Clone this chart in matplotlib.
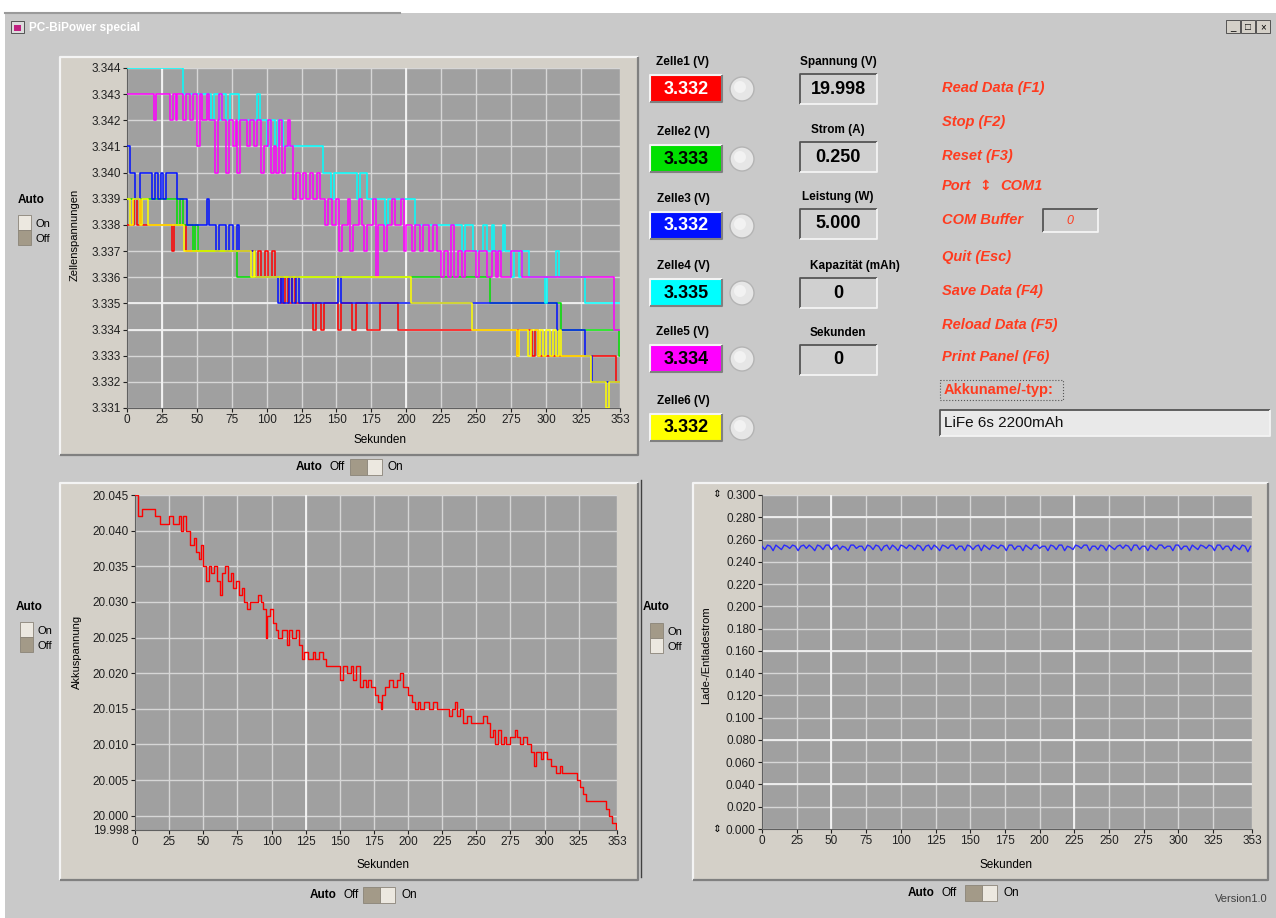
import matplotlib
matplotlib.use('Agg')
import matplotlib.pyplot as plt
from matplotlib.patches import Rectangle, Circle
import numpy as np

plt.rcParams['font.family'] = ['Liberation Sans', 'DejaVu Sans']

W, H = 1276, 918

# x axis of all three graphs
sek_ticks = [0, 25, 50, 75, 100, 125, 150, 175, 200, 225, 250, 275, 300, 325, 353]

# cell voltages: (second, volt) change points, drawn as steps
zelle1 = [(0, 3.338), (5, 3.339), (7, 3.338), (9, 3.339), (10, 3.338), (32, 3.337), (34, 3.338),
          (42, 3.337), (92, 3.336), (94, 3.337), (96, 3.336), (99, 3.337), (101, 3.336), (104, 3.337),
          (106, 3.336), (110, 3.335), (113, 3.336), (115, 3.335), (118, 3.336), (120, 3.335),
          (133, 3.334), (135, 3.335), (139, 3.334), (141, 3.335), (151, 3.334), (153, 3.335),
          (161, 3.334), (164, 3.335), (172, 3.334), (181, 3.335), (194, 3.334), (279, 3.333),
          (280, 3.334), (290, 3.333), (292, 3.334), (294, 3.333), (350, 3.332), (353, 3.332)]
zelle2 = [(0, 3.339), (36, 3.338), (38, 3.339), (40, 3.338), (47, 3.337), (49, 3.338), (51, 3.337),
          (79, 3.336), (260, 3.335), (311, 3.334), (352, 3.333), (353, 3.333)]
zelle3 = [(0, 3.341), (2, 3.340), (6, 3.339), (9, 3.340), (18, 3.339), (20, 3.340), (22, 3.339),
          (24, 3.340), (26, 3.339), (28, 3.340), (36, 3.339), (43, 3.338), (57, 3.339), (59, 3.338),
          (64, 3.337), (66, 3.338), (71, 3.337), (73, 3.338), (76, 3.337), (79, 3.338), (80, 3.337),
          (92, 3.336), (108, 3.335), (110, 3.336), (112, 3.335), (116, 3.336), (118, 3.335),
          (121, 3.336), (123, 3.335), (151, 3.336), (153, 3.335), (308, 3.334), (328, 3.333),
          (333, 3.332), (353, 3.332)]
zelle4 = [(0, 3.344), (40, 3.343), (60, 3.342), (62, 3.343), (66, 3.342), (68, 3.343), (71, 3.342),
          (74, 3.343), (80, 3.342), (93, 3.343), (95, 3.342), (100, 3.341), (103, 3.342), (106, 3.341),
          (108, 3.342), (112, 3.341), (140, 3.340), (146, 3.339), (148, 3.340), (165, 3.339),
          (167, 3.340), (172, 3.339), (185, 3.338), (187, 3.339), (206, 3.338), (240, 3.337),
          (242, 3.338), (248, 3.337), (255, 3.338), (258, 3.337), (261, 3.338), (263, 3.337),
          (269, 3.338), (271, 3.337), (275, 3.336), (277, 3.337), (281, 3.336), (283, 3.337),
          (288, 3.336), (299, 3.335), (301, 3.336), (307, 3.337), (309, 3.336), (328, 3.335),
          (353, 3.335)]
zelle5 = [(0, 3.343), (19, 3.342), (21, 3.343), (31, 3.342), (33, 3.343), (35, 3.342), (36, 3.343),
          (40, 3.342), (42, 3.343), (45, 3.342), (47, 3.343), (50, 3.341), (52, 3.343), (54, 3.342),
          (57, 3.343), (59, 3.342), (63, 3.340), (65, 3.342), (66, 3.343), (68, 3.342), (71, 3.340),
          (73, 3.342), (76, 3.341), (78, 3.342), (79, 3.340), (81, 3.342), (86, 3.341), (88, 3.342),
          (91, 3.341), (93, 3.342), (96, 3.340), (98, 3.341), (101, 3.342), (103, 3.340),
          (105, 3.341), (107, 3.340), (109, 3.342), (111, 3.340), (113, 3.341), (115, 3.342),
          (117, 3.341), (119, 3.339), (121, 3.340), (124, 3.339), (126, 3.340), (128, 3.339),
          (131, 3.340), (133, 3.339), (136, 3.340), (138, 3.339), (142, 3.338), (144, 3.339),
          (147, 3.338), (150, 3.339), (152, 3.337), (154, 3.338), (158, 3.339), (160, 3.337),
          (162, 3.338), (166, 3.339), (168, 3.338), (170, 3.337), (172, 3.338), (176, 3.339),
          (178, 3.336), (180, 3.338), (184, 3.337), (186, 3.338), (190, 3.339), (192, 3.338),
          (196, 3.339), (198, 3.337), (200, 3.338), (204, 3.337), (206, 3.338), (210, 3.337),
          (212, 3.338), (216, 3.337), (219, 3.338), (222, 3.337), (225, 3.336), (227, 3.337),
          (230, 3.336), (232, 3.338), (234, 3.336), (237, 3.337), (240, 3.336), (242, 3.337),
          (250, 3.336), (252, 3.337), (258, 3.336), (261, 3.337), (264, 3.336), (266, 3.337),
          (268, 3.336), (275, 3.337), (283, 3.336), (349, 3.334), (353, 3.334)]
zelle6 = [(0, 3.339), (2, 3.338), (4, 3.339), (9, 3.338), (11, 3.339), (15, 3.338), (41, 3.337),
          (89, 3.336), (91, 3.337), (92, 3.336), (203, 3.335), (247, 3.334), (279, 3.333),
          (281, 3.334), (287, 3.333), (289, 3.334), (294, 3.333), (296, 3.334), (298, 3.333),
          (300, 3.334), (303, 3.333), (305, 3.334), (307, 3.333), (309, 3.334), (311, 3.333),
          (332, 3.332), (343, 3.331), (345, 3.332), (353, 3.332)]
zellen = [zelle1, zelle2, zelle3, zelle4, zelle5, zelle6]
zellen_farben = ['#ff0000', '#00e000', '#0010ff', '#00ffff', '#ff00ff', '#ffff00']

# battery voltage (second, volt)
akku = [(0, 20.045), (2, 20.042), (5, 20.043), (15, 20.042), (18, 20.041), (25, 20.042), (28, 20.041),
        (32, 20.042), (34, 20.040), (35, 20.042), (37, 20.040), (40, 20.038), (43, 20.039),
        (45, 20.037), (47, 20.036), (48, 20.038), (50, 20.035), (52, 20.033), (54, 20.035),
        (56, 20.034), (58, 20.035), (60, 20.033), (62, 20.031), (64, 20.034), (66, 20.035),
        (68, 20.033), (70, 20.034), (72, 20.032), (74, 20.033), (76, 20.031), (78, 20.032),
        (80, 20.030), (82, 20.029), (84, 20.030), (90, 20.031), (92, 20.030), (94, 20.029),
        (96, 20.025), (97, 20.028), (99, 20.029), (101, 20.027), (103, 20.026), (105, 20.025),
        (108, 20.026), (111, 20.024), (113, 20.026), (115, 20.025), (118, 20.026), (120, 20.024),
        (122, 20.022), (124, 20.023), (127, 20.022), (130, 20.023), (132, 20.022), (135, 20.023),
        (138, 20.022), (140, 20.021), (150, 20.019), (152, 20.021), (155, 20.020), (158, 20.021),
        (160, 20.019), (162, 20.021), (165, 20.018), (167, 20.019), (169, 20.018), (171, 20.019),
        (173, 20.018), (176, 20.017), (178, 20.016), (180, 20.015), (181, 20.017), (183, 20.018),
        (186, 20.019), (189, 20.018), (192, 20.019), (194, 20.020), (196, 20.018), (200, 20.017),
        (203, 20.016), (205, 20.015), (207, 20.016), (209, 20.015), (212, 20.016), (215, 20.015),
        (218, 20.016), (221, 20.015), (230, 20.014), (232, 20.015), (234, 20.016), (236, 20.014),
        (238, 20.015), (240, 20.013), (243, 20.014), (246, 20.013), (255, 20.014), (258, 20.013),
        (260, 20.011), (262, 20.012), (264, 20.010), (266, 20.012), (268, 20.010), (270, 20.011),
        (272, 20.010), (275, 20.011), (278, 20.012), (280, 20.011), (282, 20.010), (284, 20.011),
        (287, 20.010), (290, 20.009), (292, 20.007), (294, 20.009), (297, 20.008), (299, 20.009),
        (302, 20.008), (305, 20.007), (308, 20.006), (311, 20.007), (313, 20.006), (324, 20.005),
        (326, 20.004), (328, 20.003), (330, 20.002), (345, 20.001), (347, 20.000), (349, 19.999),
        (352, 19.998), (353, 19.998)]

# charge / discharge current, one value every 2 seconds
strom = [
    0.254, 0.251, 0.255, 0.254, 0.250, 0.255, 0.253, 0.251, 0.255, 0.254, 0.252, 0.255,
    0.254, 0.250, 0.254, 0.255, 0.252, 0.255, 0.253, 0.250, 0.255, 0.254, 0.251, 0.255,
    0.255, 0.251, 0.254, 0.255, 0.251, 0.254, 0.253, 0.250, 0.255, 0.255, 0.252, 0.254,
    0.254, 0.250, 0.255, 0.254, 0.251, 0.255, 0.254, 0.250, 0.254, 0.255, 0.251, 0.255,
    0.253, 0.250, 0.255, 0.254, 0.252, 0.255, 0.254, 0.251, 0.255, 0.254, 0.250, 0.254,
    0.255, 0.251, 0.255, 0.253, 0.250, 0.255, 0.254, 0.252, 0.255, 0.255, 0.251, 0.254,
    0.254, 0.250, 0.255, 0.254, 0.251, 0.254, 0.255, 0.250, 0.255, 0.253, 0.251, 0.255,
    0.254, 0.252, 0.255, 0.254, 0.250, 0.255, 0.255, 0.251, 0.254, 0.254, 0.250, 0.255,
    0.253, 0.251, 0.255, 0.255, 0.252, 0.254, 0.254, 0.250, 0.255, 0.254, 0.251, 0.255,
    0.255, 0.250, 0.254, 0.253, 0.251, 0.255, 0.254, 0.252, 0.255, 0.255, 0.250, 0.254,
    0.254, 0.251, 0.255, 0.254, 0.250, 0.255, 0.253, 0.251, 0.254, 0.255, 0.252, 0.255,
    0.254, 0.250, 0.255, 0.255, 0.251, 0.254, 0.254, 0.250, 0.255, 0.253, 0.251, 0.255,
    0.255, 0.252, 0.254, 0.254, 0.250, 0.255, 0.255, 0.251, 0.254, 0.254, 0.250, 0.255,
    0.253, 0.251, 0.255, 0.254, 0.252, 0.255, 0.254, 0.250, 0.255, 0.255, 0.251, 0.254,
    0.254, 0.250, 0.255, 0.253, 0.251, 0.255, 0.254, 0.249, 0.254,
]
strom_sek = list(range(0, 353, 2))

zellen_namen = ['Zelle1 (V)', 'Zelle2 (V)', 'Zelle3 (V)', 'Zelle4 (V)', 'Zelle5 (V)', 'Zelle6 (V)']
zellen_werte = ['3.332', '3.333', '3.332', '3.335', '3.334', '3.332']
zellen_text = ['white', 'black', 'white', 'black', 'black', 'black']
info_namen = ['Spannung (V)', 'Strom (A)', 'Leistung (W)', 'Kapazität (mAh)', 'Sekunden']
info_werte = ['19.998', '0.250', '5.000', '0', '0']
menu = ['Read Data (F1)', 'Stop (F2)', 'Reset (F3)', 'Port', 'COM Buffer', 'Quit (Esc)',
        'Save Data (F4)', 'Reload Data (F5)', 'Print Panel (F6)']

ROT = '#ff3b1f'
FRAME = '#d4d0c8'
PLOT_BG = '#a0a0a0'


def frac(x0, y0, x1, y1):
    return [x0 / W, 1 - y1 / H, (x1 - x0) / W, (y1 - y0) / H]


def box(bg, x0, y0, x1, y1, face, sunken=True, lw=1.3):
    bg.add_patch(Rectangle((x0, y0), x1 - x0, y1 - y0, facecolor=face, edgecolor='none'))
    dark, light = ('#555555', '#f4f4f4') if sunken else ('#f4f4f4', '#808080')
    bg.plot([x0, x0, x1], [y1, y0, y0], color=dark, lw=lw, solid_capstyle='butt')
    bg.plot([x0, x1, x1], [y1, y1, y0], color=light, lw=lw, solid_capstyle='butt')


def vtoggle(bg, x, y, on_dark):
    top, bottom = ('#a39a88', '#ece8e0') if on_dark else ('#ece8e0', '#a39a88')
    bg.add_patch(Rectangle((x, y), 13, 15, facecolor=top, edgecolor='#8a8478', lw=0.6))
    bg.add_patch(Rectangle((x, y + 15), 13, 15, facecolor=bottom, edgecolor='#8a8478', lw=0.6))


def htoggle(bg, x, y, label_x):
    bg.text(label_x, y + 8, 'Auto', fontsize=8.5, fontweight='bold', va='center')
    bg.text(label_x + 34, y + 8, 'Off', fontsize=8.5, va='center')
    bg.add_patch(Rectangle((x, y), 17, 16, facecolor='#a39a88', edgecolor='#8a8478', lw=0.6))
    bg.add_patch(Rectangle((x + 17, y), 15, 16, facecolor='#ece8e0', edgecolor='#8a8478', lw=0.6))
    bg.text(x + 38, y + 8, 'On', fontsize=8.5, va='center')


def chart(fig, px, yticks, ylim, fmt, bright_x=(), bright_y=()):
    ax = fig.add_axes(frac(*px))
    ax.set_facecolor(PLOT_BG)
    ax.set_xlim(0, 353)
    ax.set_ylim(*ylim)
    ax.set_xticks(sek_ticks)
    ax.set_xticklabels([str(s) for s in sek_ticks])
    ax.set_yticks(yticks)
    ax.set_yticklabels([fmt % v for v in yticks])
    ax.grid(True, color='#d6d6d6', lw=1.0)
    ax.set_axisbelow(True)
    for bx in bright_x:
        ax.axvline(bx, color='#f6f6f6', lw=1.3, zorder=1)
    for by in bright_y:
        ax.axhline(by, color='#f0f0f0', lw=1.3, zorder=1)
    ax.tick_params(length=3, width=0.8, labelsize=8.5, pad=1.5, colors='#202020')
    for s in ['top', 'right']:
        ax.spines[s].set_visible(False)
    for s in ['left', 'bottom']:
        ax.spines[s].set_color('#606060')
    return ax


def main():
    fig = plt.figure(figsize=(W / 100, H / 100), dpi=100)
    bg = fig.add_axes([0, 0, 1, 1])
    bg.set_xlim(0, W)
    bg.set_ylim(H, 0)
    bg.axis('off')

    # window
    bg.add_patch(Rectangle((0, 0), W, H, facecolor='white', edgecolor='none'))
    bg.add_patch(Rectangle((5, 13), W - 5, H - 13, facecolor='#c9c9c9', edgecolor='none'))
    bg.plot([5, 400], [13, 13], color='#9a9a9a', lw=1.5)
    grad = np.linspace(0, 1, 300)
    left = np.array([10, 32, 100]) / 255
    right = np.array([110, 140, 200]) / 255
    img = (left[None, :] * (1 - grad[:, None]) + right[None, :] * grad[:, None])[None, :, :]
    bg.imshow(img, extent=(5, W, 37, 17), aspect='auto')
    bg.add_patch(Rectangle((11, 21), 13, 12, facecolor='#dcdcdc', edgecolor='#404040', lw=0.6))
    bg.add_patch(Rectangle((14, 25), 7, 6, facecolor='#c02080', edgecolor='none'))
    bg.text(29, 27.5, 'PC-BiPower special', color='white', fontsize=8.5, fontweight='bold', va='center')
    for i, sym in enumerate(['_', '□', '×']):
        bx = 1226 + i * 15
        bg.add_patch(Rectangle((bx, 20), 14, 13, facecolor='#d4d0c8', edgecolor='#404040', lw=0.6))
        bg.text(bx + 7, 27, sym, fontsize=7, ha='center', va='center')

    # graph frames
    for x0, y0, x1, y1 in [(60, 57, 638, 455), (60, 483, 638, 880), (693, 483, 1268, 880)]:
        box(bg, x0, y0, x1, y1, FRAME, sunken=False, lw=1.6)
    bg.plot([641, 641], [480, 877], color='#404040', lw=1)

    # axis titles
    bg.text(75, 235, 'Zellenspannungen', rotation=90, fontsize=8, ha='center', va='center')
    bg.text(380, 440, 'Sekunden', fontsize=8.5, ha='center', va='center')
    bg.text(77, 652, 'Akkuspannung', rotation=90, fontsize=8, ha='center', va='center')
    bg.text(383, 865, 'Sekunden', fontsize=8.5, ha='center', va='center')
    bg.text(706, 655, 'Lade-/Entladestrom', rotation=90, fontsize=8, ha='center', va='center')
    bg.text(1006, 865, 'Sekunden', fontsize=8.5, ha='center', va='center')
    bg.text(717, 494, '⇕', fontsize=7.5, ha='center', va='center', family=['DejaVu Sans'])
    bg.text(717, 829, '⇕', fontsize=7.5, ha='center', va='center', family=['DejaVu Sans'])

    # auto toggles
    for lx, ly, tx, ty, dark in [(18, 200, 18, 215, False), (16, 607, 20, 622, False),
                                 (643, 607, 650, 623, True)]:
        bg.text(lx, ly, 'Auto', fontsize=8.5, fontweight='bold', va='center')
        vtoggle(bg, tx, ty, dark)
        bg.text(tx + 18, ty + 9, 'On', fontsize=8, va='center')
        bg.text(tx + 18, ty + 24, 'Off', fontsize=8, va='center')
    htoggle(bg, 350, 459, 296)
    htoggle(bg, 363, 887, 310)
    htoggle(bg, 965, 885, 908)
    bg.text(1268, 899, 'Version1.0', fontsize=8, color='#404040', ha='right', va='center')

    # cell displays
    zellen_y = [75, 145, 212, 279, 345, 414]
    for name, wert, farbe, tf, y in zip(zellen_namen, zellen_werte, zellen_farben, zellen_text, zellen_y):
        bg.text(683, y - 13, name, fontsize=8.5, fontweight='bold', ha='center', va='center')
        box(bg, 650, y, 722, y + 27, farbe, sunken=False, lw=1.5)
        bg.text(686, y + 14, wert, fontsize=13, fontweight='bold', color=tf, ha='center', va='center')
        bg.add_patch(Circle((742, y + 14), 12, facecolor='#e6e6e6', edgecolor='#b4b4b4', lw=1))
        bg.add_patch(Circle((740, y + 12), 6, facecolor='#f2f2f2', edgecolor='none'))

    info_y = [74, 142, 209, 278, 345]
    for name, wert, y in zip(info_namen, info_werte, info_y):
        cx = 855 if name.startswith('Kapazit') else 838
        bg.text(cx, y - 12, name, fontsize=8.5, fontweight='bold', ha='center', va='center')
        box(bg, 800, y, 877, y + 30, '#d0d0d0')
        bg.text(838, y + 15, wert, fontsize=13, fontweight='bold', ha='center', va='center')

    # buttons on the right
    menu_y = [88, 122, 156, 186, 220, 257, 291, 325, 357]
    for text, y in zip(menu, menu_y):
        bg.text(942, y, text, fontsize=10.5, fontweight='bold', style='italic', color=ROT, va='center')
    bg.text(985, 186, '↕', fontsize=10, fontweight='bold', color=ROT, va='center', ha='center',
            family=['DejaVu Sans'])
    bg.text(1000, 186, 'COM1', fontsize=10.5, fontweight='bold', style='italic', color=ROT, va='center')
    box(bg, 1043, 209, 1098, 232, '#cccccc')
    bg.text(1070, 221, '0', fontsize=9, style='italic', color=ROT, ha='center', va='center')
    bg.add_patch(Rectangle((940, 380), 123, 20, facecolor='none', edgecolor='#555555', lw=0.8, ls=':'))
    bg.text(944, 390, 'Akkuname/-typ:', fontsize=10.5, fontweight='bold', color=ROT, va='center')
    box(bg, 940, 410, 1270, 436, '#e9e9e9')
    bg.text(944, 423, 'LiFe 6s 2200mAh', fontsize=11, color='#111111', va='center')

    bg.set_xlim(0, W)
    bg.set_ylim(H, 0)

    # graph 1: cell voltages
    y1 = [3.331 + 0.001 * i for i in range(14)]
    ax1 = chart(fig, (127, 68, 620, 408), y1, (3.331, 3.344), '%.3f', bright_x=(25, 200),
                bright_y=(3.334, 3.335))
    for z, farbe in zip(zellen, zellen_farben):
        t, v = zip(*z)
        ax1.step(t, v, where='post', color=farbe, lw=1.1, zorder=3)

    # graph 2: battery voltage
    y2 = [19.998] + [20.000 + 0.005 * i for i in range(10)]
    ax2 = chart(fig, (135, 495, 617, 830), y2, (19.998, 20.045), '%.3f', bright_x=(125,))
    ax2.yaxis.get_gridlines()[0].set_visible(False)
    t, v = zip(*akku)
    ax2.step(t, v, where='post', color='#ff0000', lw=1.0, zorder=3)

    # graph 3: current
    y3 = [0.020 * i for i in range(16)]
    ax3 = chart(fig, (762, 495, 1252, 829), y3, (0.0, 0.300), '%.3f', bright_x=(50, 225),
                bright_y=(0.040, 0.080, 0.160, 0.280))
    ax3.plot(strom_sek, strom, color='#2a2aff', lw=1.0, zorder=3)

    fig.savefig('out.png', dpi=100)


if __name__ == '__main__':
    main()
